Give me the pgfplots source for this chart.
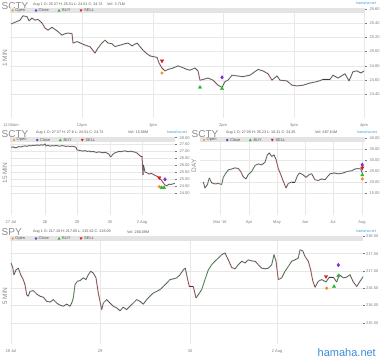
\documentclass[border=0pt]{standalone}
\usepackage{fontspec}
\setmainfont{Liberation Sans}
\usepackage{pgfplots}
\usepackage{pgfplotstable}
\pgfplotsset{compat=1.18}
\definecolor{gridc}{HTML}{E8E8E8}
\definecolor{tickc}{HTML}{7A7A7A}
\definecolor{bandc}{HTML}{E4E4E4}
\definecolor{titlec}{HTML}{8A8A8A}
\definecolor{infoc}{HTML}{555555}
\definecolor{haloc}{HTML}{BDBDBD}
\definecolor{openc}{HTML}{F39019}
\definecolor{closec}{HTML}{7B2FD6}
\definecolor{buyc}{HTML}{2DB52D}
\definecolor{sellc}{HTML}{D61A1A}
\definecolor{linkc}{HTML}{3A9AD9}
\definecolor{bigc}{HTML}{3A8BD6}
\pgfplotsset{
  panel/.style={
    scale only axis,
    axis line style={draw=none},
    xmajorgrids, ymajorgrids,
    major grid style={draw=gridc, line width=0.35pt},
    yticklabel pos=right,
    ytick pos=right,
    scaled ticks=false,
    tick label style={font=\fontsize{4}{4.5}\selectfont, text=tickc},
    xtick style={draw=none},
    ytick style={draw=tickc, line width=0.3pt},
    major tick length=2pt,
    tick align=outside,
    yticklabel style={/pgf/number format/fixed, /pgf/number format/fixed zerofill, /pgf/number format/precision=2, xshift=-1pt},
    /pgf/number format/assume math mode=true,
    colormap={updown}{rgb255=(150,30,30) rgb255=(55,55,55) rgb255=(35,115,35)},
  },
  halo/.style={draw=haloc, line width=1.5pt, opacity=0.6, line join=round},
  price/.style={mesh, shader=flat, line width=0.5pt, point meta=explicit},
  mopen/.style={only marks, mark=*, mark size=1.4pt, mark options={fill=openc, draw=openc}},
  mclose/.style={only marks, mark=diamond*, mark size=1.8pt, mark options={fill=closec, draw=closec}},
  mbuy/.style={only marks, mark=triangle*, mark size=1.9pt, mark options={fill=buyc, draw=buyc}},
  msell/.style={only marks, mark=triangle*, mark size=1.9pt, mark options={fill=sellc, draw=sellc, rotate=180}},
}
\newcommand{\legendrow}[2]{%
  \begin{scope}[shift={(#1pt,-#2pt)}, every node/.style={anchor=west, inner sep=0pt, font=\fontsize{4}{4.5}\selectfont, text=infoc}]
    \fill[openc] (0,0) circle (1.2pt);
    \node at (2.5pt,0) {Open};
    \fill[closec] (23.3pt,1.4pt) -- (24.7pt,0) -- (23.3pt,-1.4pt) -- (21.9pt,0) -- cycle;
    \node at (25.8pt,0) {Close};
    \fill[buyc] (46.3pt,1.5pt) -- (47.8pt,-1.2pt) -- (44.8pt,-1.2pt) -- cycle;
    \node at (49.3pt,0) {BUY};
    \fill[sellc] (68.3pt,-1.5pt) -- (69.8pt,1.2pt) -- (66.8pt,1.2pt) -- cycle;
    \node at (71.3pt,0) {SELL};
  \end{scope}}
\pgfplotstableread{
x y
11 25.386
15 25.41
20 25.44
23 25.50
27 25.49
29 25.43
32 25.47
35 25.44
38 25.45
42 25.40
45 25.33
48 25.30
52 25.34
55 25.31
58 25.28
62 25.23
65 25.25
68 25.26
72 25.25
73 25.12
77 25.14
82 25.11
87 25.08
90 25.07
95 24.98
98 25.05
102 25.12
105 25.16
108 25.12
112 25.11
115 25.07
120 25.09
125 25.11
128 25.12
132 25.08
137 25.12
140 25.07
143 25.02
147 24.97
150 24.94
153 24.93
157 24.92
159 24.84
162 24.77
165 24.73
168 24.75
173 24.77
178 24.80
182 24.78
187 24.75
190 24.74
195 24.77
198 24.73
200 24.60
203 24.61
208 24.63
213 24.60
218 24.53
222 24.50
225 24.58
228 24.60
232 24.67
237 24.66
243 24.65
250 24.67
255 24.72
258 24.75
263 24.73
268 24.69
272 24.60
277 24.66
280 24.60
287 24.59
292 24.53
297 24.52
303 24.53
310 24.56
317 24.58
323 24.61
330 24.61
333 24.67
338 24.63
345 24.69
349 24.59
353 24.72
357 24.73
361 24.70
364 24.73
}\dataA
\pgfplotstableread{
x y
11 27.30
13 27.33
15 27.26
17 27.30
19 27.35
21 27.32
23 27.38
25 27.40
27 27.37
29 27.42
31 27.40
33 27.45
35 27.43
37 27.47
39 27.44
41 27.48
43 27.45
45 27.54
46 27.40
48 27.45
50 27.38
52 27.42
54 27.40
56 27.43
58 27.40
60 27.38
62 27.42
64 27.40
66 27.36
68 27.39
70 27.36
72 27.38
74 27.35
76 27.30
77 27.11
79 27.08
81 27.05
83 27.02
85 27.06
87 27.00
89 27.03
91 26.97
93 27.00
95 26.95
97 26.93
99 26.97
101 26.93
103 26.90
105 26.94
107 26.88
109 26.80
110 26.65
111 26.62
113 26.80
115 26.90
117 26.95
119 27.00
121 26.98
123 27.02
125 27.04
127 27.00
129 26.98
131 27.02
133 26.97
135 26.95
137 26.88
139 26.75
141 26.62
142 26.66
143 25.30
143.5 26.00
145 25.50
147 25.45
149 25.35
151 25.40
153 25.35
155 25.25
157 25.20
159 25.05
161 24.95
163 24.75
165 24.55
167 24.52
169 24.62
171 24.60
173 24.64
175 24.70
}\dataB
\pgfplotstableread{
x y
203.3 20.0
205 17.3
207.3 18.7
209.3 21.8
211.7 19.6
215 19.1
218.3 19.3
221.7 18.9
223.3 22.1
226 24.1
228.3 25.5
231.7 25.9
235 26.4
238.3 26.1
240.7 24.8
243.3 22.3
246 21.4
248.3 23.4
251.7 24.8
255 27.5
258.3 28.2
261.7 27.8
265 28.9
267.3 32.3
269.3 33.2
271.7 31.6
274 32.3
276 30.2
278.3 26.1
280.7 23.4
282.7 21.0
286 17.3
288.3 19.3
291.7 20.0
295 20.0
297.3 22.7
299.3 24.1
302.7 23.4
306 22.1
309.3 23.4
311.7 23.7
315 21.0
318.3 20.7
321.7 21.4
325 21.0
327.3 22.3
330 23.7
334 24.1
338.3 23.7
343.3 24.1
347.3 24.8
351.7 25.1
355 25.9
358.3 26.1
360.7 25.9
362.3 24.1
}\dataC
\pgfplotstableread{
x y
11 217.23
12.7 217.10
14 216.89
16 217.03
18.3 217.08
20.7 216.89
23.3 216.75
25 216.60
26.7 216.31
28.3 216.27
30 216.41
33.3 216.43
36.7 216.33
40 216.27
43.3 216.24
46.7 216.12
50 216.10
53.3 216.17
56.7 216.07
60 216.01
63.3 215.98
66.7 216.04
70 215.98
71.7 216.07
73.3 216.22
75 216.60
77.3 216.70
80 216.72
83.3 216.80
86 216.75
88.3 216.89
90.7 216.99
93.3 216.94
96 216.80
98.3 216.36
100 216.12
101.7 215.88
103.3 216.07
106.7 216.17
110 216.07
113.3 215.98
116.7 215.93
120 215.85
123.3 215.95
126.7 215.88
130 215.98
133.3 216.07
136.7 216.17
140 216.12
143.3 216.04
146.7 216.17
150 216.27
153.3 216.36
156.7 216.41
160 216.46
163.3 216.55
166.7 216.65
170 216.75
173.3 216.77
176.7 216.80
180 216.89
183.3 217.03
185.3 217.08
187.3 216.80
189.3 216.55
193.3 216.55
196 216.22
198.3 216.31
201.7 216.46
205 216.75
208.3 217.03
211.7 217.18
215 217.28
218.3 217.37
221.7 217.47
225 217.52
228.3 217.32
231.7 217.10
235 217.06
238.3 217.18
241.7 217.28
245 217.23
248.3 217.32
251.7 217.29
255 217.28
258.3 217.18
261.7 217.08
265 217.06
268.3 217.08
271.7 217.18
274 217.47
276 217.28
278.3 216.75
281.7 216.80
285 216.99
288.3 217.13
291.7 217.28
295 217.32
298.3 217.37
300 217.61
302.7 217.58
305 217.42
308.3 217.28
310.7 217.03
312.7 216.72
315 216.53
318.3 216.70
321.7 216.75
326 216.68
329.3 216.82
333.3 216.82
336.7 216.68
339.3 216.89
343.3 216.80
346.7 216.82
350 216.89
353.3 216.68
356.7 216.55
360 216.70
363.3 216.84
}\dataD
\pgfplotstablecreatecol[create col/expr={\thisrow{y}-0\prevrow{y}}]{g}\dataA
\pgfplotstablecreatecol[create col/expr={\thisrow{y}-0\prevrow{y}}]{g}\dataB
\pgfplotstablecreatecol[create col/expr={\thisrow{y}-0\prevrow{y}}]{g}\dataC
\pgfplotstablecreatecol[create col/expr={\thisrow{y}-0\prevrow{y}}]{g}\dataD
\begin{document}
\begin{tikzpicture}
\useasboundingbox (0pt,0pt) rectangle (380pt,-358pt);
% ---------------- titles (under the legend bands) ----------------
\begin{scope}[every node/.style={inner sep=0pt, text=titlec}]
\node[anchor=west, font=\fontsize{10}{10}\selectfont] at (1.5pt,-6pt) {SCTY};
\node[anchor=west, font=\fontsize{10}{10}\selectfont] at (1.5pt,-134.5pt) {SCTY};
\node[anchor=west, font=\fontsize{10}{10}\selectfont] at (191.5pt,-134.5pt) {SCTY};
\node[anchor=west, font=\fontsize{10}{10}\selectfont] at (1.5pt,-232.5pt) {SPY};
\node[rotate=90, font=\fontsize{6.5}{6.5}\selectfont] at (5pt,-58pt) {1 MIN};
\node[rotate=90, font=\fontsize{6.5}{6.5}\selectfont] at (5pt,-173pt) {15 MIN};
\node[rotate=90, font=\fontsize{6.5}{6.5}\selectfont] at (194pt,-166pt) {DAY};
\node[rotate=90, font=\fontsize{6.5}{6.5}\selectfont] at (5pt,-296pt) {5 MIN};
\end{scope}
% ---------------- Panel 1: SCTY 1 MIN ----------------
\begin{axis}[panel, at={(10pt,-118pt)}, anchor=south west, width=355pt, height=110pt,
  xmin=10, xmax=365, ymin=24.071, ymax=25.61,
  point meta min=-0.1, point meta max=0.1,
  xtick={11,82,153,223,294,364}, xticklabels={11:00am,12pm,1pm,2pm,3pm,4pm},
  ytick={24.4,24.6,24.8,25.0,25.2,25.4,25.6}]
\addplot[halo] table[x=x,y=y] {\dataA};
\addplot[price] table[x=x,y=y,meta=g] {\dataA};
\addplot[msell] coordinates {(162,24.87)};
\addplot[mopen] coordinates {(162,24.70)};
\addplot[mbuy] coordinates {(200,24.50) (222,24.48)};
\addplot[mclose] coordinates {(222,24.64)};
\end{axis}
% ---------------- Panel 2: SCTY 15 MIN ----------------
\begin{axis}[panel, at={(10pt,-215pt)}, anchor=south west, width=165pt, height=77.5pt,
  xmin=10, xmax=175, ymin=22.38, ymax=28.01,
  point meta min=-0.12, point meta max=0.12,
  xtick={11,45,77,110,142}, xticklabels={27 Jul,28,29,30,2 Aug},
  ytick={24,24.5,25,25.5,26,26.5,27,27.5,28}]
\addplot[halo] table[x=x,y=y] {\dataB};
\addplot[price] table[x=x,y=y,meta=g] {\dataB};
\addplot[msell] coordinates {(159.3,25.09)};
\addplot[mclose] coordinates {(165,24.97)};
\addplot[mopen] coordinates {(159.3,24.44)};
\addplot[mbuy] coordinates {(161.7,24.36) (164,24.36)};
\end{axis}
% ---------------- Panel 3: SCTY DAY ----------------
\begin{axis}[panel, at={(200pt,-215pt)}, anchor=south west, width=165pt, height=77.5pt,
  xmin=200, xmax=365, ymin=5, ymax=40.2,
  point meta min=-3, point meta max=3,
  xtick={220,249,277,305,333,362}, xticklabels={Mar '16,Apr,May,Jun,Jul,Aug},
  ytick={15,20,25,30,35,40}]
\addplot[halo] table[x=x,y=y] {\dataC};
\addplot[price] table[x=x,y=y,meta=g] {\dataC};
\addplot[mclose] coordinates {(362.3,27.8)};
\addplot[msell] coordinates {(362.3,26.4)};
\addplot[mbuy] coordinates {(362.3,23.2)};
\addplot[mopen] coordinates {(362.3,21.4)};
\end{axis}
% ---------------- Panel 4: SPY 5 MIN ----------------
\begin{axis}[panel, at={(10pt,-344pt)}, anchor=south west, width=353pt, height=108pt,
  xmin=10, xmax=363, ymin=214.887, ymax=218.01,
  point meta min=-0.25, point meta max=0.25,
  xtick={11,100,190,277}, xticklabels={28 Jul,29,30,2 Aug},
  ytick={215.5,216,216.5,217,217.5,218},
  yticklabel style={xshift=-1.5pt}]
\addplot[halo] table[x=x,y=y] {\dataD};
\addplot[price] table[x=x,y=y,meta=g] {\dataD};
\addplot[msell] coordinates {(326,216.84)};
\addplot[mopen] coordinates {(326.7,216.50)};
\addplot[mbuy] coordinates {(334,216.55) (338.3,216.86)};
\addplot[mclose] coordinates {(338.3,217.17)};
\end{axis}
% ---------------- legend bands ----------------
\fill[bandc] (10pt,-8pt) rectangle (365pt,-13pt);
\fill[bandc] (10pt,-137.5pt) rectangle (175pt,-142.5pt);
\fill[bandc] (200pt,-137.5pt) rectangle (365pt,-142.5pt);
\fill[bandc] (10pt,-236pt) rectangle (363pt,-241pt);
\legendrow{12.7}{10.5}
\legendrow{14}{140}
\legendrow{204}{140}
\legendrow{12.7}{238.5}
\begin{scope}[every node/.style={inner sep=0pt, anchor=west, text=infoc, font=\fontsize{3.7}{4}\selectfont}]
\node at (33pt,-4.5pt) {Aug 1 O: 25.37 H: 25.51 L: 24.51 C: 24.72};
\node at (107pt,-4.5pt) {Vol: 3.71M};
\node at (36pt,-132.5pt) {Aug 1 O: 27.37 H: 27.6 L: 24.51 C: 24.72};
\node at (128pt,-132.5pt) {Vol: 15.58M};
\node at (226pt,-132.5pt) {Aug 1 O: 27.05 H: 35.23 L: 16.31 C: 24.25};
\node at (315pt,-132.5pt) {Vol: 687.61M};
\node at (33pt,-232pt) {Aug 1 O: 217.19 H: 217.65 L: 215.62 C: 216.09};
\node at (127pt,-232pt) {Vol: 260.09M};
\end{scope}
\begin{scope}[every node/.style={inner sep=0pt, anchor=east, text=linkc, font=\fontsize{3.7}{4}\selectfont}]
\node at (376pt,-3pt) {hamaha.net};
\node at (187pt,-132.5pt) {hamaha.net};
\node at (377pt,-132.5pt) {hamaha.net};
\node at (376pt,-231pt) {hamaha.net};
\end{scope}
\node[anchor=south east, inner sep=0pt, text=bigc, font=\fontsize{11}{11}\selectfont] at (376pt,-357pt) {hamaha.net};
\end{tikzpicture}
\end{document}
